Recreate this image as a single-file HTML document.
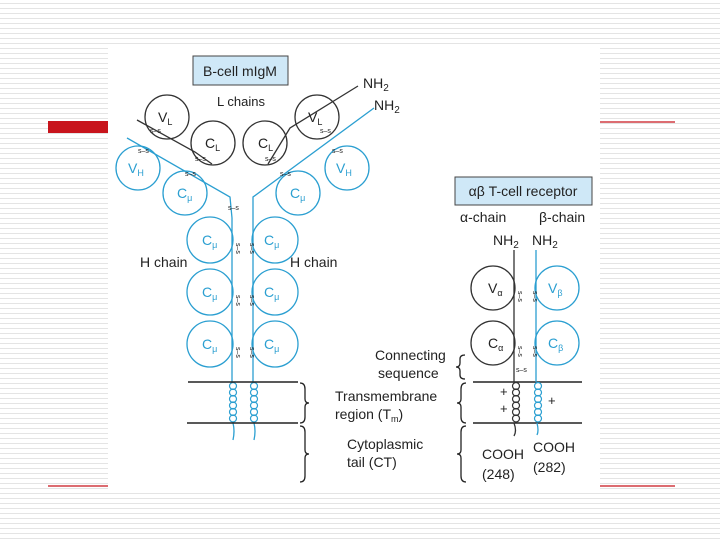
<!DOCTYPE html>
<html><head><meta charset="utf-8"><style>
html,body{margin:0;padding:0}
body{width:720px;height:540px;overflow:hidden;position:relative;background:#fff;
background-image:repeating-linear-gradient(to bottom,#fff 0px,#fff 3px,#e4e4e4 3px,#e4e4e4 4px,#fff 4px,#fff 5px);}
svg{position:absolute;left:0;top:0}
text{font-family:"Liberation Sans",sans-serif;fill:#222}
</style></head><body>
<svg width="720" height="540" viewBox="0 0 720 540">
<defs>
<g id="coil" fill="none" stroke-width="1.2">
<circle cx="0" cy="4" r="3.5"/><circle cx="0" cy="10.5" r="3.5"/><circle cx="0" cy="17" r="3.5"/>
<circle cx="0" cy="23.5" r="3.5"/><circle cx="0" cy="30" r="3.5"/><circle cx="0" cy="36.5" r="3.5"/>
</g>
</defs>
<rect x="48" y="121" width="62" height="12" fill="#c8141c"/>
<line x1="600" y1="122" x2="675" y2="122" stroke="#c8141c" stroke-width="1.2"/>
<line x1="48" y1="486" x2="110" y2="486" stroke="#c8141c" stroke-width="1.2"/>
<line x1="600" y1="486" x2="675" y2="486" stroke="#c8141c" stroke-width="1.2"/>
<rect x="108" y="45" width="492" height="445" fill="#fff"/>

<rect x="193" y="56" width="95" height="29" fill="#cfe8f7" stroke="#444" stroke-width="1"/>
<text x="240" y="76" font-size="14" text-anchor="middle">B-cell mIgM</text>
<text x="241" y="106" font-size="13" text-anchor="middle">L chains</text>

<g fill="none" stroke-width="1.3">
<g stroke="#333">
<circle cx="167" cy="117" r="22"/><circle cx="213" cy="143" r="22"/>
<circle cx="265" cy="143" r="22"/><circle cx="317" cy="117" r="22"/>
<path d="M137 120 L195 152 L212 164"/>
<path d="M358 86 L290 128 L268 164"/>
</g>
<g stroke="#2b9fd1">
<circle cx="138" cy="168" r="22"/><circle cx="185" cy="193" r="22"/>
<circle cx="347" cy="168" r="22"/><circle cx="298" cy="193" r="22"/>
<path d="M127 138 L230 197 L232 218 L232 382"/>
<path d="M374 108 L253 197 L253 218 L253 382"/>
<circle cx="210" cy="240" r="23"/><circle cx="275" cy="240" r="23"/>
<circle cx="210" cy="292" r="23"/><circle cx="275" cy="292" r="23"/>
<circle cx="210" cy="344" r="23"/><circle cx="275" cy="344" r="23"/>
<use href="#coil" x="233" y="382"/><use href="#coil" x="254" y="382"/>
<path d="M233 423 q2 8 0 17"/><path d="M254 423 q2 8 0 17"/>
</g>
<g stroke="#222" stroke-width="1.5">
<line x1="188" y1="382" x2="298" y2="382"/><line x1="187" y1="423" x2="298" y2="423"/>
<line x1="473" y1="382" x2="582" y2="382"/><line x1="473" y1="423" x2="582" y2="423"/>
</g>
<g stroke="#222">
<path d="M300 383 q5 0 5 6 v10 q0 4 4 4 q-4 0 -4 4 v10 q0 6 -5 6"/>
<path d="M300 426 q5 0 5 6 v18 q0 4 4 4 q-4 0 -4 4 v18 q0 6 -5 6"/>
<path d="M465 355 q-5 0 -5 4 v4 q0 4 -4 4 q4 0 4 4 v4 q0 4 5 4"/>
<path d="M466 383 q-5 0 -5 6 v10 q0 4 -4 4 q4 0 4 4 v10 q0 6 5 6"/>
<path d="M466 426 q-5 0 -5 6 v18 q0 4 -4 4 q4 0 4 4 v18 q0 6 5 6"/>
</g>
<g stroke="#333">
<circle cx="493" cy="288" r="22"/><circle cx="493" cy="343" r="22"/>
<line x1="514" y1="250" x2="514" y2="382"/>
<use href="#coil" x="516" y="382"/>
<path d="M514 423 q3 8 0 13"/>
</g>
<g stroke="#2b9fd1">
<circle cx="557" cy="288" r="22"/><circle cx="557" cy="343" r="22"/>
<line x1="536" y1="250" x2="536" y2="382"/>
<use href="#coil" x="538" y="382"/>
<path d="M537 423 q2 8 0 12"/>
</g>
</g>
<g font-size="7" fill="#222">
<text x="228" y="210">s–s</text>
<text x="236" y="243" transform="rotate(90 236 243)">s–s</text><text x="250" y="243" transform="rotate(90 250 243)">s–s</text>
<text x="236" y="295" transform="rotate(90 236 295)">s–s</text><text x="250" y="295" transform="rotate(90 250 295)">s–s</text>
<text x="236" y="347" transform="rotate(90 236 347)">s–s</text><text x="250" y="347" transform="rotate(90 250 347)">s–s</text>
<text x="518" y="291" transform="rotate(90 518 291)">s–s</text><text x="533" y="291" transform="rotate(90 533 291)">s–s</text>
<text x="518" y="346" transform="rotate(90 518 346)">s–s</text><text x="533" y="346" transform="rotate(90 533 346)">s–s</text>
<text x="516" y="372">s–s</text>
<text x="150" y="133">s–s</text><text x="138" y="153">s–s</text>
<text x="195" y="161">s–s</text><text x="185" y="176">s–s</text>
<text x="265" y="161">s–s</text><text x="280" y="176">s–s</text>
<text x="320" y="133">s–s</text><text x="332" y="153">s–s</text>
</g>
<g font-size="14">
<text x="158" y="122">V<tspan font-size="9" dy="3">L</tspan></text>
<text x="205" y="148">C<tspan font-size="9" dy="3">L</tspan></text>
<text x="258" y="148">C<tspan font-size="9" dy="3">L</tspan></text>
<text x="308" y="122">V<tspan font-size="9" dy="3">L</tspan></text>
<text x="488" y="293">V<tspan font-size="9" dy="3">α</tspan></text>
<text x="488" y="348">C<tspan font-size="9" dy="3">α</tspan></text>
</g>
<g font-size="14">
<text x="128" y="173" fill="#2b9fd1" style="fill:#2b9fd1">V<tspan font-size="9" dy="3">H</tspan></text>
<text x="177" y="198" style="fill:#2b9fd1">C<tspan font-size="9" dy="3">μ</tspan></text>
<text x="336" y="173" style="fill:#2b9fd1">V<tspan font-size="9" dy="3">H</tspan></text>
<text x="290" y="198" style="fill:#2b9fd1">C<tspan font-size="9" dy="3">μ</tspan></text>
<text x="202" y="245" style="fill:#2b9fd1">C<tspan font-size="9" dy="3">μ</tspan></text>
<text x="264" y="245" style="fill:#2b9fd1">C<tspan font-size="9" dy="3">μ</tspan></text>
<text x="202" y="297" style="fill:#2b9fd1">C<tspan font-size="9" dy="3">μ</tspan></text>
<text x="264" y="297" style="fill:#2b9fd1">C<tspan font-size="9" dy="3">μ</tspan></text>
<text x="202" y="349" style="fill:#2b9fd1">C<tspan font-size="9" dy="3">μ</tspan></text>
<text x="264" y="349" style="fill:#2b9fd1">C<tspan font-size="9" dy="3">μ</tspan></text>
<text x="548" y="293" style="fill:#2b9fd1">V<tspan font-size="9" dy="3">β</tspan></text>
<text x="548" y="348" style="fill:#2b9fd1">C<tspan font-size="9" dy="3">β</tspan></text>
</g>
<g font-size="14">
<text x="363" y="88">NH<tspan font-size="10" dy="3">2</tspan></text>
<text x="374" y="110">NH<tspan font-size="10" dy="3">2</tspan></text>
<text x="140" y="267">H chain</text>
<text x="290" y="267">H chain</text>
<text x="375" y="360">Connecting</text>
<text x="378" y="378">sequence</text>
<text x="335" y="401">Transmembrane</text>
<text x="335" y="419">region (T<tspan font-size="9" dy="3">m</tspan><tspan dy="-3">)</tspan></text>
<text x="347" y="449">Cytoplasmic</text>
<text x="347" y="467">tail (CT)</text>
</g>
<rect x="455" y="177" width="137" height="28" fill="#cfe8f7" stroke="#444" stroke-width="1"/>
<text x="523" y="196" font-size="14" text-anchor="middle">αβ T-cell receptor</text>
<g font-size="14">
<text x="460" y="222">α-chain</text><text x="539" y="222">β-chain</text>
<text x="493" y="245">NH<tspan font-size="10" dy="3">2</tspan></text>
<text x="532" y="245">NH<tspan font-size="10" dy="3">2</tspan></text>
<text x="500" y="396" font-size="13">+</text><text x="500" y="413" font-size="13">+</text>
<text x="548" y="405" font-size="13">+</text>
<text x="482" y="459">COOH</text><text x="482" y="479">(248)</text>
<text x="533" y="452">COOH</text><text x="533" y="472">(282)</text>
</g>
</svg>
</body></html>
